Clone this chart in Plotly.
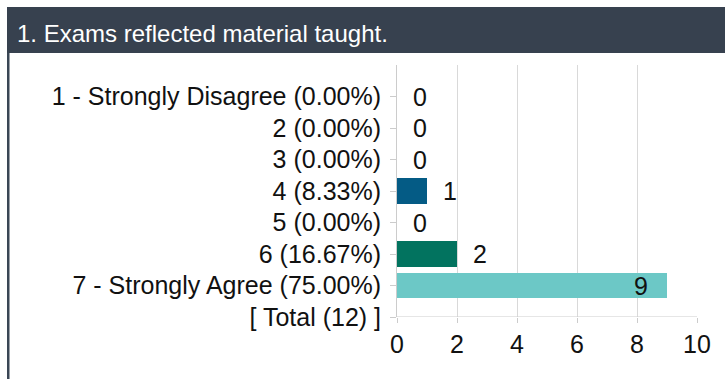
import plotly.graph_objects as go

# Survey question and response distribution
question = "1. Exams reflected material taught."
categories = [
    "1 - Strongly Disagree (0.00%)",
    "2 (0.00%)",
    "3 (0.00%)",
    "4 (8.33%)",
    "5 (0.00%)",
    "6 (16.67%)",
    "7 - Strongly Agree (75.00%)",
    "[ Total (12) ]",
]
counts = [0, 0, 0, 1, 0, 2, 9]
bar_colors = ["#045B85", "#045B85", "#045B85", "#045B85", "#02735F", "#02735F", "#6CC8C6"]
x_ticks = [0, 2, 4, 6, 8, 10]

FONT = "Liberation Sans, Arial, sans-serif"
W, H = 725, 379
ML, MR, MT, MB = 397, 28, 65, 62
PW, PH = W - ML - MR, H - MT - MB


def px_x(px):
    return (px - ML) / PW


def px_y(py):
    return (H - MB - py) / PH


rows = list(range(len(counts)))

fig = go.Figure()
fig.add_trace(go.Bar(
    x=counts,
    y=rows,
    orientation="h",
    width=0.8,
    marker=dict(color=bar_colors, line=dict(width=0)),
    hoverinfo="skip",
    showlegend=False,
))

# value labels: outside the bar, or inside near the end for the long bar
annotations = []
for i, v in enumerate(counts):
    inside = v >= 8
    annotations.append(dict(
        x=v, y=i, xref="x", yref="y",
        text=str(v), showarrow=False,
        xanchor="right" if inside else "left",
        xshift=-17 if inside else 14,
        yanchor="middle",
        font=dict(family=FONT, size=25, color="#111111"),
    ))

# header text
annotations.append(dict(
    x=px_x(15), y=px_y(33), xref="paper", yref="paper",
    text=question, showarrow=False, xanchor="left", yanchor="middle",
    font=dict(family=FONT, size=24, color="#ffffff"),
))

shapes = [
    # header bar
    dict(type="rect", xref="paper", yref="paper",
         x0=px_x(7), x1=px_x(W + 2), y0=px_y(53), y1=px_y(7),
         fillcolor="#37414F", line=dict(width=0), layer="below"),
    # left panel border
    dict(type="rect", xref="paper", yref="paper",
         x0=px_x(7), x1=px_x(9.5), y0=px_y(H + 2), y1=px_y(53),
         fillcolor="#3A4655", line=dict(width=0), layer="below"),
]

fig.update_layout(
    width=W, height=H,
    margin=dict(l=ML, r=MR, t=MT, b=MB, pad=0),
    paper_bgcolor="#ffffff",
    plot_bgcolor="#ffffff",
    font=dict(family=FONT, size=25, color="#111111"),
    bargap=0,
    annotations=annotations,
    shapes=shapes,
    xaxis=dict(
        range=[0, 10],
        tickvals=x_ticks,
        ticktext=[str(t) for t in x_ticks],
        showgrid=True, gridcolor="#D9D9D9", gridwidth=1,
        zeroline=False,
        showline=False,
        ticks="outside", ticklen=5, tickcolor="#CCCCCC",
        tickfont=dict(family=FONT, size=25, color="#111111"),
        ticklabelstandoff=0,
        fixedrange=True,
    ),
    yaxis=dict(
        range=[7, -1],
        tickvals=list(range(len(categories))),
        ticktext=categories,
        showgrid=False,
        zeroline=False,
        showline=True, linecolor="#CCCCCC", linewidth=1,
        ticks="outside", ticklen=6, tickcolor="#CCCCCC",
        tickfont=dict(family=FONT, size=25, color="#111111"),
        ticklabelstandoff=4,
        fixedrange=True,
    ),
)

# bottom axis line along the last row
fig.add_shape(type="line", xref="x", yref="y", x0=0, x1=10, y0=7, y1=7,
              line=dict(color="#CCCCCC", width=1))

fig.write_html("out.html")
